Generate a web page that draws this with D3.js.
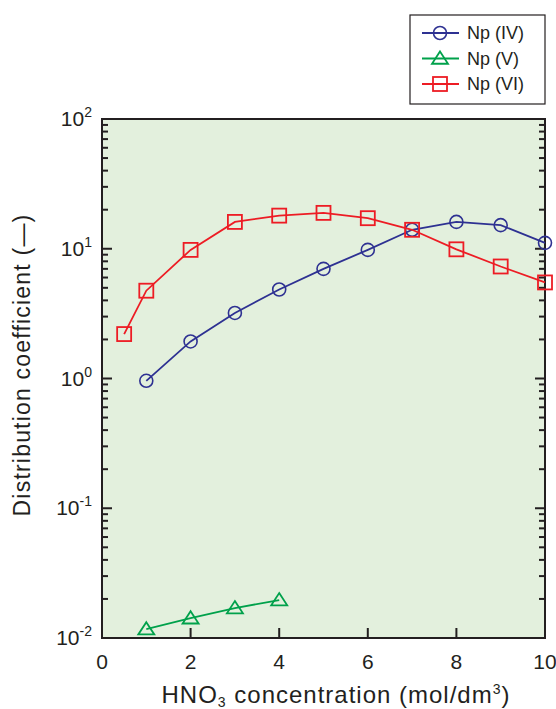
<!DOCTYPE html>
<html>
<head>
<meta charset="utf-8">
<script src="https://cdn.jsdelivr.net/npm/d3@7"></script>
<style>
  body { margin: 0; background: #fff; }
  svg { font-family: "Liberation Sans", Arial, sans-serif; }
</style>
</head>
<body>
<svg id="chart" width="556" height="709"></svg>
<script>
// data
var npIVx = [1, 2, 3, 4, 5, 6, 7, 8, 9, 10];
var npIVy = [0.96, 1.93, 3.2, 4.85, 7.0, 9.8, 14.0, 16.1, 15.2, 11.1];
var npVx = [1, 2, 3, 4];
var npVy = [0.0117, 0.0142, 0.0170, 0.0196];
var npVIx = [0.5, 1, 2, 3, 4, 5, 6, 7, 8, 9, 10];
var npVIy = [2.2, 4.75, 9.8, 16.1, 18.0, 18.9, 17.2, 14.0, 9.9, 7.3, 5.5];
var xTicks = [0, 2, 4, 6, 8, 10];
var yExps = [-2, -1, 0, 1, 2];

var series = [
  {name: 'Np (IV)', xs: npIVx, ys: npIVy, color: '#2e3192', shape: 'circle'},
  {name: 'Np (V)', xs: npVx, ys: npVy, color: '#00a14b', shape: 'triangle'},
  {name: 'Np (VI)', xs: npVIx, ys: npVIy, color: '#ed1c24', shape: 'square'}
];

var svg = d3.select('#chart');
// plot box (note: "top" is taken by window.top, so use plot* names)
var plotL = 102, plotR = 545, plotT = 119, plotB = 638;

var x = d3.scaleLinear().domain([0, 10]).range([plotL, plotR]);
var y = d3.scaleLog().domain([0.01, 100]).range([plotB, plotT]);

// plot background
svg.append('rect')
  .attr('x', plotL).attr('y', plotT)
  .attr('width', plotR - plotL).attr('height', plotB - plotT)
  .style('fill', '#e3f0dd');

// minor/major log ticks on left and right (inside)
var logTicks = [];
for (var e = -2; e < 2; e++) {
  for (var m = 1; m < 10; m++) logTicks.push({v: m * Math.pow(10, e), major: m == 1});
}
logTicks.push({v: 100, major: true});

logTicks.forEach(function(t) {
  var len = t.major ? 10 : 6;
  svg.append('line')
    .attr('x1', plotL).attr('x2', plotL + len)
    .attr('y1', y(t.v)).attr('y2', y(t.v))
    .style('stroke', '#231f20').style('stroke-width', 2);
  svg.append('line')
    .attr('x1', plotR).attr('x2', plotR - len)
    .attr('y1', y(t.v)).attr('y2', y(t.v))
    .style('stroke', '#231f20').style('stroke-width', 2);
});

// x ticks on bottom (inside)
xTicks.forEach(function(t) {
  svg.append('line')
    .attr('x1', x(t)).attr('x2', x(t))
    .attr('y1', plotB).attr('y2', plotB - 10)
    .style('stroke', '#231f20').style('stroke-width', 2);
  svg.append('text')
    .attr('x', x(t)).attr('y', plotB + 31)
    .attr('text-anchor', 'middle')
    .style('font-size', '21px').style('fill', '#231f20')
    .text(t);
});

// y tick labels 10^n
yExps.forEach(function(e) {
  var t = svg.append('text')
    .attr('x', plotL - 10).attr('y', y(Math.pow(10, e)) + 7)
    .attr('text-anchor', 'end')
    .style('font-size', '21px').style('fill', '#231f20');
  t.append('tspan').text('10');
  t.append('tspan').attr('dy', -9).style('font-size', '14px').text(String(e));
});

// frame
svg.append('rect')
  .attr('x', plotL).attr('y', plotT)
  .attr('width', plotR - plotL).attr('height', plotB - plotT)
  .style('fill', 'none').style('stroke', '#231f20').style('stroke-width', 2);

function drawMarker(g, shape, cx, cy, color) {
  if (shape == 'circle') {
    g.append('circle').attr('cx', cx).attr('cy', cy).attr('r', 6.5)
      .style('fill', 'none').style('stroke', color).style('stroke-width', 1.6);
  } else if (shape == 'square') {
    g.append('rect').attr('x', cx - 7).attr('y', cy - 7).attr('width', 14).attr('height', 14)
      .style('fill', 'none').style('stroke', color).style('stroke-width', 1.8);
  } else {
    var s = 7;
    g.append('path')
      .attr('d', 'M' + cx + ',' + (cy - s) + 'L' + (cx + s + 1) + ',' + (cy + s * 0.75) + 'L' + (cx - s - 1) + ',' + (cy + s * 0.75) + 'Z')
      .style('fill', 'none').style('stroke', color).style('stroke-width', 1.8);
  }
}

var line = d3.line().x(function(d) { return x(d[0]); }).y(function(d) { return y(d[1]); });

series.forEach(function(s) {
  var pts = s.xs.map(function(v, i) { return [v, s.ys[i]]; });
  svg.append('path').datum(pts).attr('d', line)
    .style('fill', 'none').style('stroke', s.color).style('stroke-width', 1.8);
  var g = svg.append('g');
  pts.forEach(function(p) { drawMarker(g, s.shape, x(p[0]), y(p[1]), s.color); });
});

// legend
svg.append('rect').attr('x', 410).attr('y', 15).attr('width', 135).attr('height', 89)
  .style('fill', '#fff').style('stroke', '#231f20').style('stroke-width', 1.2);
series.forEach(function(s, i) {
  var ly = 33 + i * 25.5;
  svg.append('line').attr('x1', 422).attr('x2', 459).attr('y1', ly).attr('y2', ly)
    .style('stroke', s.color).style('stroke-width', 1.8);
  drawMarker(svg, s.shape, 440, ly, s.color);
  svg.append('text').attr('x', 467).attr('y', ly + 6)
    .style('font-size', '18px').style('fill', '#231f20').text(s.name);
});

// axis titles
var xt = svg.append('text').attr('x', 336).attr('y', 703)
  .attr('text-anchor', 'middle').style('font-size', '24px')
  .style('letter-spacing', '1px').style('fill', '#231f20');
xt.append('tspan').text('HNO');
xt.append('tspan').attr('dy', 4).style('font-size', '14px').text('3');
xt.append('tspan').attr('dy', -4).text(' concentration (mol/dm');
xt.append('tspan').attr('dy', -9).style('font-size', '14px').text('3');
xt.append('tspan').attr('dy', 9).text(')');

svg.append('text')
  .attr('transform', 'translate(30,' + 365 + ') rotate(-90)')
  .attr('text-anchor', 'middle').style('font-size', '23px')
  .style('letter-spacing', '1.2px').style('fill', '#231f20')
  .text('Distribution coefficient (\u2014)');
</script>
</body>
</html>
